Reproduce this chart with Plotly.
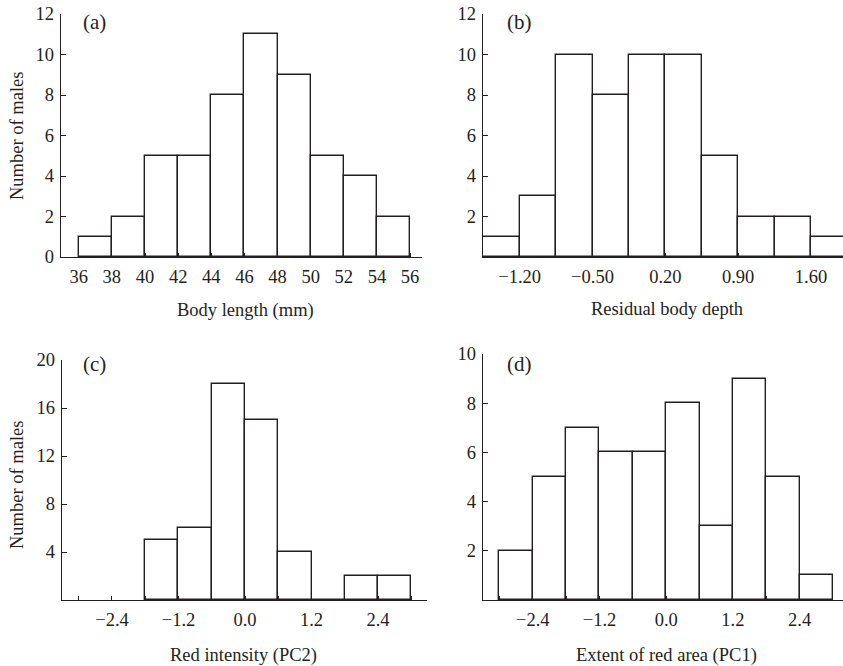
import plotly.graph_objects as go

# ---------------- data ----------------
a_edges = [36, 38, 40, 42, 44, 46, 48, 50, 52, 54, 56]
a_counts = [1, 2, 5, 5, 8, 11, 9, 5, 4, 2]

b_edges = [-1.55, -1.20, -0.85, -0.50, -0.15, 0.20, 0.55, 0.90, 1.25, 1.60, 1.95]
b_counts = [1, 3, 10, 8, 10, 10, 5, 2, 2, 1]

c_edges = [-1.8, -1.2, -0.6, 0.0, 0.6, 1.2, 1.8, 2.4, 3.0]
c_counts = [5, 6, 18, 15, 4, 0, 2, 2]

d_edges = [-3.0, -2.4, -1.8, -1.2, -0.6, 0.0, 0.6, 1.2, 1.8, 2.4, 3.0]
d_counts = [2, 5, 7, 6, 6, 8, 3, 9, 5, 1]

a_xticks = [36, 38, 40, 42, 44, 46, 48, 50, 52, 54, 56]
a_xlabels = ["36", "38", "40", "42", "44", "46", "48", "50", "52", "54", "56"]
b_xticks = [-1.20, -0.50, 0.20, 0.90, 1.60]
b_xlabels = ["\u22121.20", "\u22120.50", "0.20", "0.90", "1.60"]
cd_xticks = [-3.0, -2.4, -1.8, -1.2, -0.6, 0.0, 0.6, 1.2, 1.8, 2.4, 3.0]
cd_xlabels = ["", "\u22122.4", "", "\u22121.2", "", "0.0", "", "1.2", "", "2.4", ""]

a_yticks = [0, 2, 4, 6, 8, 10, 12]
b_yticks = [2, 4, 6, 8, 10, 12]
c_yticks = [4, 8, 12, 16, 20]
d_yticks = [2, 4, 6, 8, 10]

x_titles = ["Body length (mm)", "Residual body depth", "Red intensity (PC2)", "Extent of red area (PC1)"]
y_title = "Number of males"
panel_labels = ["(a)", "(b)", "(c)", "(d)"]

# ---------------- figure ----------------
W, H = 843, 666
FONT = "Liberation Serif, Times New Roman, serif"
INK = "#231f20"

fig = go.Figure()

panels = [
    (a_edges, a_counts, "x", "y"),
    (b_edges, b_counts, "x2", "y2"),
    (c_edges, c_counts, "x3", "y3"),
    (d_edges, d_counts, "x4", "y4"),
]
for edges, counts, xa, ya in panels:
    centers = [(edges[i] + edges[i + 1]) / 2 for i in range(len(counts))]
    widths = [edges[i + 1] - edges[i] for i in range(len(counts))]
    fig.add_trace(go.Bar(
        x=centers, y=counts, width=widths, xaxis=xa, yaxis=ya,
        marker=dict(color="white", line=dict(color=INK, width=1.4)),
        showlegend=False, hoverinfo="x+y",
    ))

def px_x(p):
    return p / W

def px_y(p):
    return 1 - p / H

axis_common = dict(
    showgrid=False, zeroline=False, showline=True, linecolor=INK, linewidth=1.4,
    ticks="inside", tickcolor=INK, tickwidth=1.2, automargin=False,
    ticklabeloverflow="allow",
    tickfont=dict(family=FONT, size=18.5, color=INK),
    fixedrange=True,
)
xcommon = dict(ticklen=4, ticklabelstandoff=3, **axis_common)
ycommon = dict(ticklen=5, ticklabelstandoff=2, **axis_common)

layout_axes = dict(
    xaxis=dict(domain=[px_x(61), px_x(421.5)], range=[34.93, 56.69], anchor="y",
               tickmode="array", tickvals=a_xticks, ticktext=a_xlabels, **xcommon),
    yaxis=dict(domain=[px_y(257), px_y(14)], range=[0, 12], anchor="x",
               tickmode="array", tickvals=a_yticks, ticktext=[str(v) for v in a_yticks], **ycommon),
    xaxis2=dict(domain=[px_x(483), px_x(843)], range=[-1.553, 1.908], anchor="y2",
                tickmode="array", tickvals=b_xticks, ticktext=b_xlabels, **xcommon),
    yaxis2=dict(domain=[px_y(257), px_y(14)], range=[0, 12], anchor="x2",
                tickmode="array", tickvals=b_yticks, ticktext=[str(v) for v in b_yticks], **ycommon),
    xaxis3=dict(domain=[px_x(62), px_x(427)], range=[-3.302, 3.284], anchor="y3",
                tickmode="array", tickvals=cd_xticks, ticktext=cd_xlabels, **xcommon),
    yaxis3=dict(domain=[px_y(600), px_y(360)], range=[0, 20], anchor="x3",
                tickmode="array", tickvals=c_yticks, ticktext=[str(v) for v in c_yticks], **ycommon),
    xaxis4=dict(domain=[px_x(483), px_x(843)], range=[-3.295, 3.18], anchor="y4",
                tickmode="array", tickvals=cd_xticks, ticktext=cd_xlabels, **xcommon),
    yaxis4=dict(domain=[px_y(600), px_y(354)], range=[0, 10], anchor="x4",
                tickmode="array", tickvals=d_yticks, ticktext=[str(v) for v in d_yticks], **ycommon),
)

annotations = []
for text, cx, cy in zip(x_titles, [245, 667, 243, 666], [310, 309, 655, 655]):
    annotations.append(dict(text=text, x=px_x(cx), y=px_y(cy), xref="paper", yref="paper",
                            showarrow=False, xanchor="center", yanchor="middle",
                            font=dict(family=FONT, size=18.5, color=INK)))
for cy in [136, 485]:
    annotations.append(dict(text=y_title, x=px_x(17), y=px_y(cy), xref="paper", yref="paper",
                            showarrow=False, xanchor="center", yanchor="middle", textangle=-90,
                            font=dict(family=FONT, size=18.5, color=INK)))
for text, cx, cy in zip(panel_labels, [94, 519, 94, 519], [22, 22, 364, 364]):
    annotations.append(dict(text=text, x=px_x(cx), y=px_y(cy), xref="paper", yref="paper",
                            showarrow=False, xanchor="center", yanchor="middle",
                            font=dict(family=FONT, size=21, color=INK)))

fig.update_layout(
    template="none",
    width=W, height=H,
    margin=dict(l=0, r=0, t=0, b=0, autoexpand=False),
    paper_bgcolor="white", plot_bgcolor="white",
    bargap=0,
    annotations=annotations,
    font=dict(family=FONT, size=18.5, color=INK),
    **layout_axes,
)

fig.write_html(
    "out.html",
    config={"displayModeBar": False},
    post_script="document.body.style.margin='0';document.body.style.overflow='hidden';",
)
